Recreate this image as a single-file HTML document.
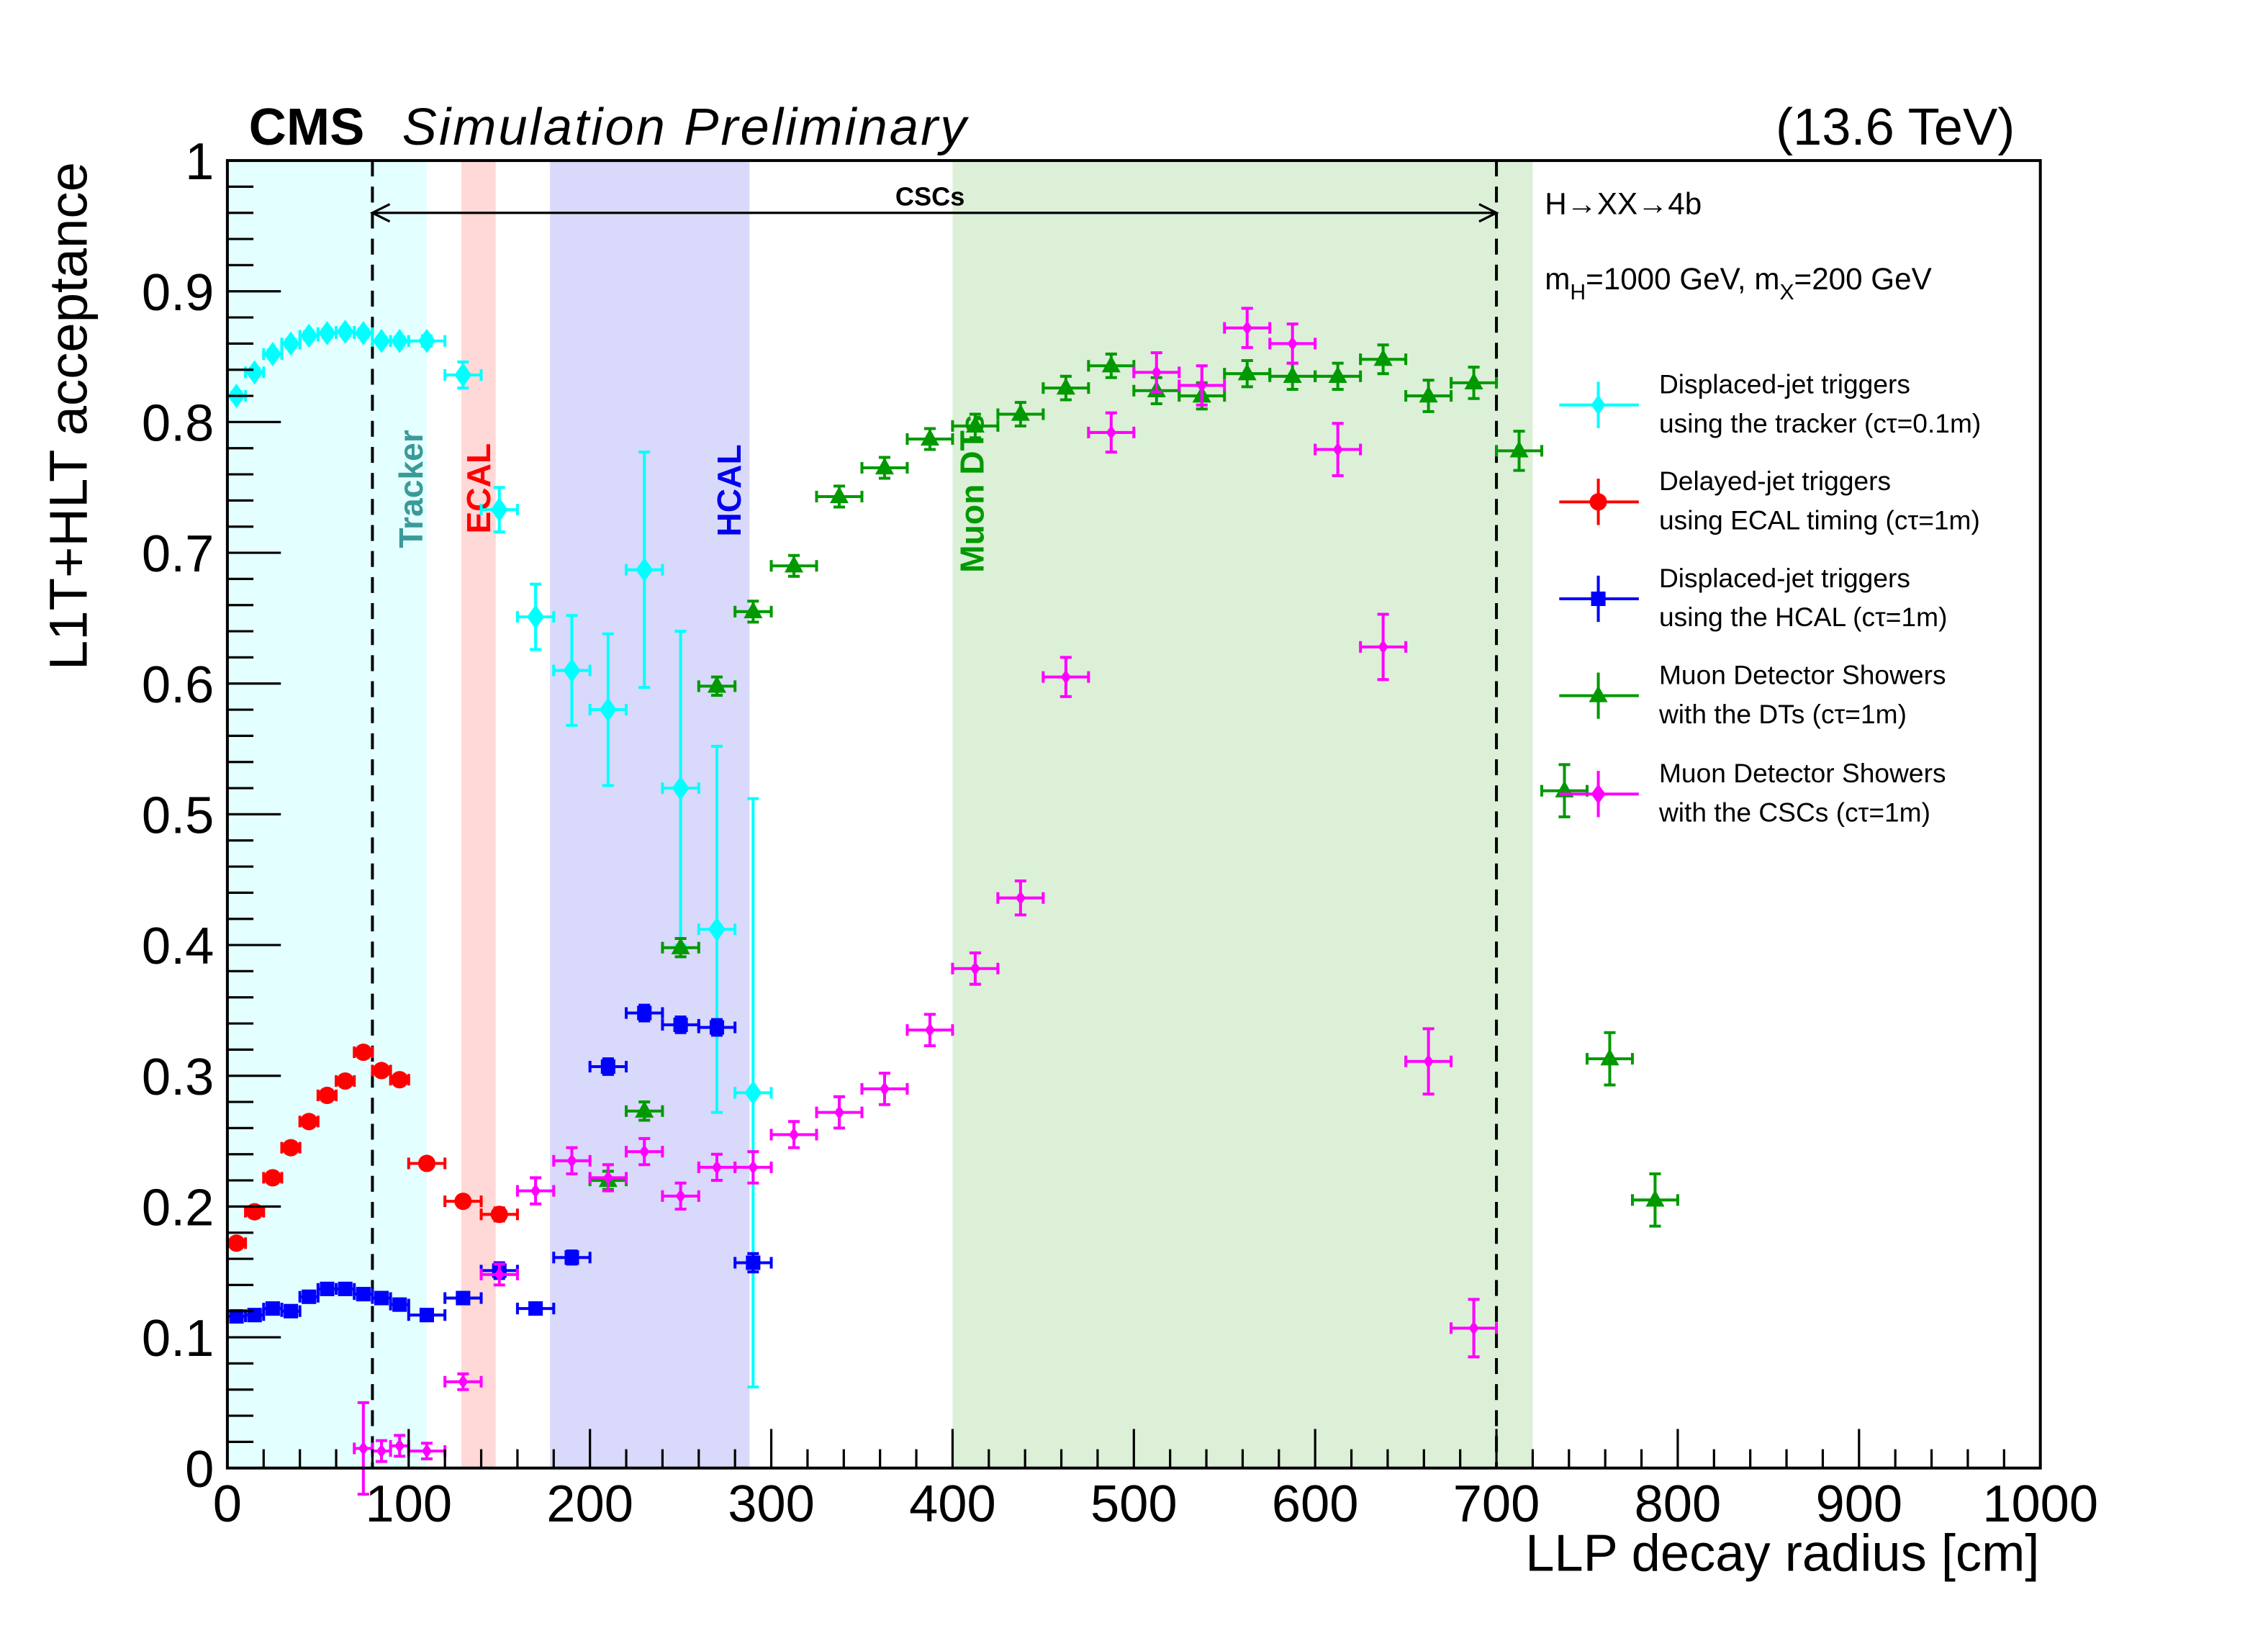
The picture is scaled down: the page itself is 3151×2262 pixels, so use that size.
<!DOCTYPE html>
<html><head><meta charset="utf-8"><style>
html,body{margin:0;padding:0;background:#fff;}
svg{display:block;font-family:"Liberation Sans",Arial,sans-serif;}
</style></head><body>
<svg id="chart" width="3151" height="2262" viewBox="0 0 1568 1125.6" preserveAspectRatio="none" xmlns="http://www.w3.org/2000/svg">
<g id="bands"></g>
<g id="marks"></g>
<g id="axes"></g>
</svg>
<script>
// ---- data ----
const cyanX = [5,15,25,35,45,55,65,75,85,95,110,130,150,170,190,210,230,250,270,290];
const cyanY = [0.820,0.838,0.852,0.860,0.866,0.868,0.869,0.868,0.862,0.862,0.862,0.836,0.733,0.651,0.610,0.580,0.687,0.520,0.412,0.287];
const cyanE = [0.003,0.003,0.003,0.003,0.003,0.003,0.003,0.003,0.003,0.003,0.004,0.010,0.017,0.025,0.042,0.058,0.090,0.120,0.140,0.225];
const redX = [5,15,25,35,45,55,65,75,85,95,110,130,150];
const redY = [0.172,0.196,0.222,0.245,0.265,0.285,0.296,0.318,0.304,0.297,0.233,0.204,0.194];
const redE = [0.004,0.004,0.004,0.004,0.004,0.004,0.004,0.004,0.004,0.004,0.004,0.004,0.005];
const blueX = [5,15,25,35,45,55,65,75,85,95,110,130,150,170,190,210,230,250,270,290];
const blueY = [0.116,0.117,0.122,0.120,0.131,0.137,0.137,0.133,0.130,0.125,0.117,0.130,0.151,0.122,0.161,0.307,0.348,0.339,0.337,0.157];
const blueE = [0.003,0.003,0.003,0.003,0.003,0.003,0.003,0.003,0.003,0.003,0.004,0.004,0.006,0.004,0.005,0.006,0.006,0.006,0.006,0.007];
const greenX = [210,230,250,270,290,312.5,337.5,362.5,387.5,412.5,437.5,462.5,487.5,512.5,537.5,562.5,587.5,612.5,637.5,662.5,687.5,712.5,737.5,762.5,787.5];
const greenY = [0.220,0.273,0.398,0.598,0.655,0.690,0.743,0.765,0.787,0.797,0.806,0.826,0.843,0.824,0.820,0.837,0.835,0.835,0.848,0.820,0.830,0.778,0.518,0.313,0.205];
const greenE = [0.007,0.007,0.007,0.007,0.008,0.008,0.008,0.008,0.008,0.009,0.009,0.009,0.009,0.010,0.010,0.010,0.010,0.010,0.011,0.012,0.012,0.015,0.020,0.020,0.020];
const magX = [75,85,95,110,130,150,170,190,210,230,250,270,290,312.5,337.5,362.5,387.5,412.5,437.5,462.5,487.5,512.5,537.5,562.5,587.5,612.5,637.5,662.5,687.5];
const magY = [0.015,0.013,0.017,0.013,0.066,0.148,0.212,0.235,0.222,0.242,0.208,0.230,0.230,0.255,0.272,0.290,0.335,0.382,0.436,0.605,0.792,0.838,0.828,0.872,0.860,0.779,0.628,0.311,0.107];
const magE = [0.035,0.008,0.008,0.006,0.006,0.008,0.010,0.010,0.010,0.010,0.010,0.010,0.012,0.010,0.012,0.012,0.012,0.012,0.013,0.015,0.015,0.015,0.015,0.015,0.015,0.020,0.025,0.025,0.022];
const xTicks = [0,100,200,300,400,500,600,700,800,900,1000];
const xTickLabels = ["0","100","200","300","400","500","600","700","800","900","1000"];
const yTicks = [0,0.1,0.2,0.3,0.4,0.5,0.6,0.7,0.8,0.9,1];
const yTickLabels = ["0","0.1","0.2","0.3","0.4","0.5","0.6","0.7","0.8","0.9","1"];

// ---- geometry ----
const L=157.2,R=1410.6,T=111,B=1015;
const sx = v => L + (v/1000)*(R-L);
const sy = v => B - v*(B-T);
const xe = x => x<100?5:(x<300?10:12.5);
const NS="http://www.w3.org/2000/svg";
function mk(parent,tag,attrs,text){const e=document.createElementNS(NS,tag);for(const k in attrs)e.setAttribute(k,attrs[k]);if(text!==undefined)e.textContent=text;parent.appendChild(e);return e;}
const gb=document.getElementById('bands'),gm=document.getElementById('marks'),ga=document.getElementById('axes');

function band(a,b,col,name){const r=mk(gb,'rect',{x:sx(a),y:T,width:sx(b)-sx(a),height:B-T,fill:col});

}
band(0,110,'#e4ffff','tracker-band');
band(129,148,'#ffd8d8','ecal-band');
band(178,288,'#d9d9fb','hcal-band');
band(400,720,'#dcf0d8','muon-dt-band');

[80,700].forEach(v=>{const l=mk(gb,'line',{x1:sx(v),x2:sx(v),y1:T,y2:B,stroke:'#000','stroke-width':2,'stroke-dasharray':'11,7'});

});
const ay=sy(0.96);
const arr=mk(gb,'g',{stroke:'#000','stroke-width':1.6,fill:'none'});


mk(arr,'line',{x1:sx(80),x2:sx(700),y1:ay,y2:ay});
mk(arr,'polyline',{points:`${sx(80)+12},${ay-6} ${sx(80)},${ay} ${sx(80)+12},${ay+6}`});
mk(arr,'polyline',{points:`${sx(700)-12},${ay-6} ${sx(700)},${ay} ${sx(700)-12},${ay+6}`});
const cl=mk(gb,'text',{x:643,y:142,'font-size':18,'font-weight':'bold','text-anchor':'middle'},'CSCs');



function vlabel(txt,x,y,col,name){const t=mk(gb,'text',{x:x,y:y,'font-size':23,'font-weight':'bold',fill:col,transform:`rotate(-90 ${x} ${y})`},txt);

}
vlabel('Tracker',292,379,'#3a9a98','tracker-label');
vlabel('ECAL',339,369,'#ff0000','ecal-label');
vlabel('HCAL',512,371,'#0000ee','hcal-label');
vlabel('Muon DTs',680,396,'#009900','muon-dt-label');

function marker(g,shape,x,y,col,s){
  if(shape==='circle') return mk(g,'circle',{cx:x,cy:y,r:s,fill:col});
  if(shape==='square') return mk(g,'rect',{x:x-s,y:y-s,width:2*s,height:2*s,fill:col});
  if(shape==='tri') return mk(g,'polygon',{points:`${x},${y-s*1.1} ${x-s},${y+s*0.7} ${x+s},${y+s*0.7}`,fill:col});
  if(shape==='diamond') return mk(g,'polygon',{points:`${x},${y-s*1.4} ${x+s},${y} ${x},${y+s*1.4} ${x-s},${y}`,fill:col});
}
function series(name,X,Y,E,col,shape,size){
  const g=mk(gm,'g',{});
  
  
  X.forEach((x,i)=>{
    const px=sx(x),py=sy(Y[i]),ex=xe(x);
    mk(g,'line',{x1:sx(x-ex),x2:sx(x+ex),y1:py,y2:py,stroke:col,'stroke-width':2});
    mk(g,'line',{x1:sx(x-ex),x2:sx(x-ex),y1:py-4,y2:py+4,stroke:col,'stroke-width':2});
    mk(g,'line',{x1:sx(x+ex),x2:sx(x+ex),y1:py-4,y2:py+4,stroke:col,'stroke-width':2});
    const y1=sy(Y[i]+E[i]),y2=sy(Y[i]-E[i]);
    mk(g,'line',{x1:px,x2:px,y1:y1,y2:y2,stroke:col,'stroke-width':2});
    mk(g,'line',{x1:px-4,x2:px+4,y1:y1,y2:y1,stroke:col,'stroke-width':2});
    mk(g,'line',{x1:px-4,x2:px+4,y1:y2,y2:y2,stroke:col,'stroke-width':2});
    const m=marker(g,shape,px,py,col,size);
    
    
  });
}
series('tracker-series',cyanX,cyanY,cyanE,'#00ffff','diamond',6);
series('ecal-series',redX,redY,redE,'#ff0000','circle',6);
series('hcal-series',blueX,blueY,blueE,'#0000ff','square',5);
series('dt-series',greenX,greenY,greenE,'#009900','tri',6.5);
series('csc-series',magX,magY,magE,'#ff00ff','diamond',3.5);

const fr=mk(ga,'rect',{x:L,y:T,width:R-L,height:B-T,fill:'none',stroke:'#000','stroke-width':2});


for(let v=0;v<=1000;v+=20){const maj=v%100===0;const h=maj?27:13;
  mk(ga,'line',{x1:sx(v),x2:sx(v),y1:B,y2:B-h,stroke:'#000','stroke-width':1.6});}
for(let k=0;k<=50;k++){const v=k*0.02;const maj=k%5===0;const w=maj?37:18;
  mk(ga,'line',{x1:L,x2:L+w,y1:sy(v),y2:sy(v),stroke:'#000','stroke-width':1.6});}
xTicks.forEach((v,i)=>{const t=mk(ga,'text',{x:sx(v),y:1052,'font-size':36,'text-anchor':'middle'},xTickLabels[i]);

});
yTicks.forEach((v,i)=>{const t=mk(ga,'text',{x:148,y:sy(v)+13,'font-size':36,'text-anchor':'end'},yTickLabels[i]);

});
</script>
<script>
(function(){
const NS="http://www.w3.org/2000/svg";const svg=document.getElementById('chart');
function t(attrs,txt,name){const e=document.createElementNS(NS,'text');for(const k in attrs)e.setAttribute(k,attrs[k]);e.textContent=txt;


svg.appendChild(e);return e;}
t({x:1410,y:1086,'font-size':36,'text-anchor':'end'},'LLP decay radius [cm]','x-axis-title');
t({x:60,y:112,'font-size':37,'text-anchor':'end',transform:'rotate(-90 60 112)'},'L1T+HLT acceptance','y-axis-title');
t({x:172,y:100,'font-size':36,'font-weight':'bold'},'CMS','cms-label');
t({x:278,y:100,'font-size':36,'font-style':'italic',textLength:390},'Simulation Preliminary','simulation-preliminary-label');
t({x:1393,y:100,'font-size':36,'text-anchor':'end'},'(13.6 TeV)','energy-label');
t({x:1068,y:148,'font-size':21},'H\u2192XX\u21924b','process-label');
const m=t({x:1068,y:200,'font-size':21},'','mass-label');
m.innerHTML='m<tspan font-size="15" dy="7">H</tspan><tspan dy="-7">=1000 GeV, m</tspan><tspan font-size="15" dy="7">X</tspan><tspan dy="-7">=200 GeV</tspan>';
const ents=[
 ['#00ffff','diamond','Displaced-jet triggers','using the tracker (c\u03c4=0.1m)',280],
 ['#ff0000','circle','Delayed-jet triggers','using ECAL timing (c\u03c4=1m)',347],
 ['#0000ff','square','Displaced-jet triggers','using the HCAL (c\u03c4=1m)',414],
 ['#009900','tri','Muon Detector Showers','with the DTs (c\u03c4=1m)',481],
 ['#ff00ff','diamond','Muon Detector Showers','with the CSCs (c\u03c4=1m)',549]];
ents.forEach(e=>{
 const g=document.createElementNS(NS,'g');
 
 
 svg.appendChild(g);
 const col=e[0],y=e[4],x=1105;
 g.innerHTML=`<line x1="1078" x2="1133" y1="${y}" y2="${y}" stroke="${col}" stroke-width="2"/><line x1="${x}" x2="${x}" y1="${y-16}" y2="${y+16}" stroke="${col}" stroke-width="2"/>`+
 (e[1]==='circle'?`<circle cx="${x}" cy="${y}" r="6" fill="${col}"/>`:e[1]==='square'?`<rect x="${x-5}" y="${y-5}" width="10" height="10" fill="${col}"/>`:e[1]==='tri'?`<polygon points="${x},${y-7} ${x-6.5},${y+4.5} ${x+6.5},${y+4.5}" fill="${col}"/>`:`<polygon points="${x},${y-7} ${x+5},${y} ${x},${y+7} ${x-5},${y}" fill="${col}"/>`)+
 `<text x="1147" y="${y-8}" font-size="18.5">${e[2]}</text><text x="1147" y="${y+19}" font-size="18.5">${e[3]}</text>`;
});
})();
</script>
</body></html>
